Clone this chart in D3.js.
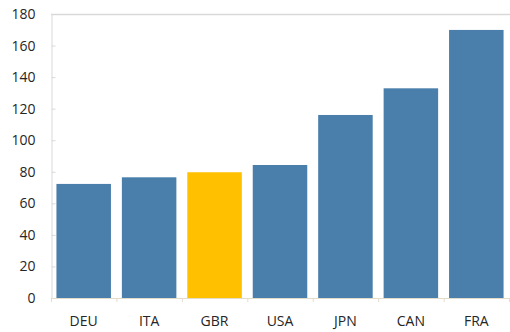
<!DOCTYPE html>
<html>
<head>
<meta charset="utf-8">
<script src="https://cdn.jsdelivr.net/npm/d3@7"></script>
<style>
  html, body { margin: 0; padding: 0; background: #fff; }
  svg { display: block; }
  text { font-family: "Open Sans", "Noto Sans", sans-serif; fill: #262626; }
</style>
</head>
<body>
<svg id="chart" width="510" height="332"></svg>
<script>
// Country codes and values
const categories = ["DEU", "ITA", "GBR", "USA", "JPN", "CAN", "FRA"];
const values = [72.3, 76.5, 79.7, 84.3, 116.0, 132.9, 169.9];
const highlight = "GBR";
const yTicks = [0, 20, 40, 60, 80, 100, 120, 140, 160, 180];

const svg = d3.select("#chart");
const margin = { left: 51, right: 1, top: 14, bottom: 34 };
const W = 510, H = 332;

const x = d3.scaleBand()
  .domain(categories)
  .range([margin.left, W - margin.right])
  .paddingInner(0.167)
  .paddingOuter(0.083);

const y = d3.scaleLinear()
  .domain([0, 180])
  .range([H - margin.bottom, margin.top]);

// top gridline
svg.append("line")
  .attr("x1", margin.left).attr("x2", W)
  .attr("y1", y(180) + 0.5).attr("y2", y(180) + 0.5)
  .attr("stroke", "#d9d9d9").attr("stroke-width", 1.5);

// y axis
const yAxis = svg.append("g")
  .attr("transform", `translate(${margin.left + 0.5},0)`)
  .call(d3.axisLeft(y).tickValues(yTicks).tickSize(-4).tickPadding(16).tickSizeOuter(0));
yAxis.select(".domain").attr("stroke", "#d9d9d9");
yAxis.selectAll(".tick line").attr("stroke", "#d9d9d9");
yAxis.selectAll(".tick text")
  .attr("font-size", 14)
  .attr("font-family", "\"Open Sans\", \"Noto Sans\", sans-serif")
  .attr("fill", "#262626");

// bars
svg.append("g").selectAll("rect")
  .data(categories)
  .join("rect")
  .attr("x", d => x(d))
  .attr("width", x.bandwidth())
  .attr("y", (d, i) => y(values[i]))
  .attr("height", (d, i) => y(0) - y(values[i]))
  .attr("fill", d => d === highlight ? "#ffc000" : "#4a7eab");

// x axis baseline with boundary ticks
const xg = svg.append("g");
xg.append("line")
  .attr("x1", margin.left).attr("x2", W)
  .attr("y1", y(0) + 0.5).attr("y2", y(0) + 0.5)
  .attr("stroke", "#e4dccb");
const step = x.step();
xg.selectAll("line.b")
  .data(d3.range(categories.length + 1))
  .join("line")
  .attr("class", "b")
  .attr("x1", i => margin.left + i * step + 0.5)
  .attr("x2", i => margin.left + i * step + 0.5)
  .attr("y1", y(0)).attr("y2", y(0) + 4)
  .attr("stroke", "#e4dccb");

xg.selectAll("text")
  .data(categories)
  .join("text")
  .attr("x", d => x(d) + x.bandwidth() / 2)
  .attr("y", 326)
  .attr("text-anchor", "middle")
  .attr("font-size", 14)
  .text(d => d);
</script>
</body>
</html>
